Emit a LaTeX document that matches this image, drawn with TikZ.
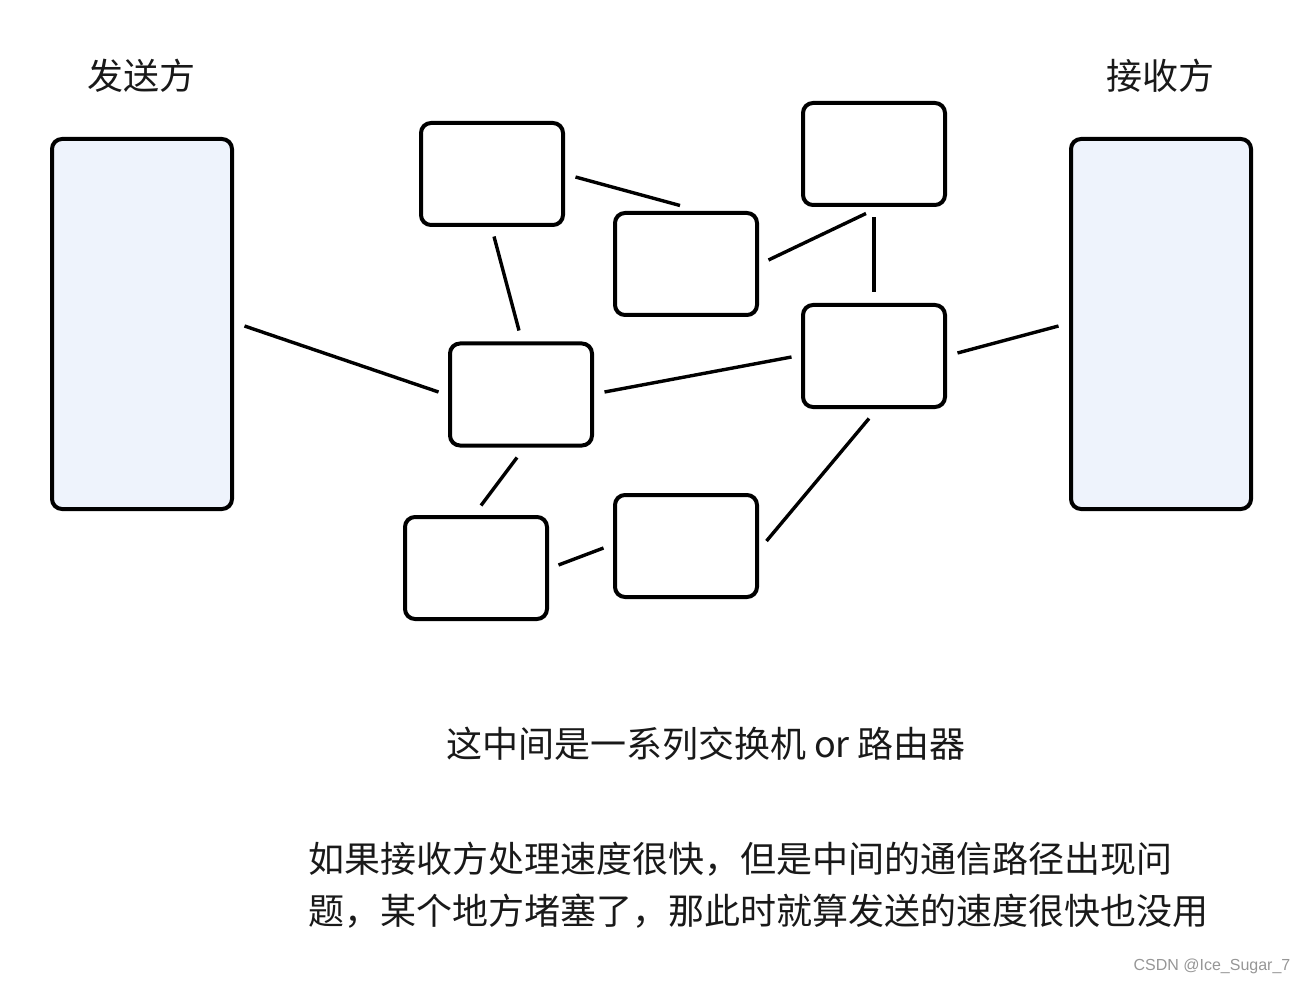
\documentclass[tikz,border=0pt]{standalone}
\usepackage{fontspec}
\newfontfamily\cjk{Noto Sans CJK SC}
\newfontfamily\wm{Liberation Sans}
\usetikzlibrary{calc}
\definecolor{boxfill}{RGB}{238,243,252}
\definecolor{wmgray}{RGB}{150,150,150}
\definecolor{txt}{RGB}{25,25,25}
\tikzset{
  router/.style={draw=black, line width=4pt, rounded corners=10pt, minimum width=142pt, minimum height=102pt, inner sep=0pt},
  endpoint/.style={draw=black, line width=4pt, rounded corners=10pt, fill=boxfill, minimum width=180pt, minimum height=370pt, inner sep=0pt},
  link/.style={line width=3.4pt, line cap=butt},
  label/.style={font=\cjk\fontsize{36}{42}\selectfont, text=txt, inner sep=0pt},
}
\begin{document}
\begin{tikzpicture}[x=1pt,y=-1pt]
\useasboundingbox (0,0) rectangle (1304,984);
\node[label] (ls) at (141,76) {发送方};
\node[label] (lr) at (1160,76) {接收方};
\node[endpoint] (S) at (142,324) {};
\node[endpoint] (R) at (1161,324) {};
\node[router] (B1) at (492,174) {};
\node[router] (B2) at (686,264) {};
\node[router] (B3) at (874,154) {};
\node[router] (A) at (521,394.5) {};
\node[router] (C) at (874,356) {};
\node[router] (D) at (476,568) {};
\node[router] (E) at (686,546) {};
\draw[link] ($(S.east)+(10.5,2)$) -- ($(A.west)+(-9.5,-2.5)$);
\draw[link] ($(B1.east)+(10.5,3)$) -- ($(B2.north)+(-6,-5.5)$);
\draw[link] ($(B1.south)+(2,9.5)$) -- ($(A.north)+(-2,-11)$);
\draw[link] ($(B2.east)+(9.5,-4)$) -- ($(B3.south)+(-8,6.5)$);
\draw[link] ($(B3.south)+(0,10.5)$) -- ($(C.north)+(0,-10.5)$);
\draw[link] ($(A.east)+(10.5,-2.5)$) -- ($(C.west)+(-9.5,1)$);
\draw[link] ($(C.east)+(10.5,-3)$) -- ($(R.west)+(-10.5,2)$);
\draw[link] ($(A.south)+(-4,10)$) -- ($(D.north)+(5,-9.5)$);
\draw[link] ($(D.east)+(9.5,-3)$) -- ($(E.west)+(-9.5,2)$);
\draw[link] ($(E.east)+(7.5,-5)$) -- ($(C.south)+(-5,9.5)$);
\node[label] (mid) at (706,744) {这中间是一系列交换机 or 路由器};
\node[label, anchor=west] (t1) at (308,859) {如果接收方处理速度很快，但是中间的通信路径出现问};
\node[label, anchor=west] (t2) at (308,911) {题，某个地方堵塞了，那此时就算发送的速度很快也没用};
\node[font=\wm\fontsize{16}{19}\selectfont, text=wmgray, inner sep=0pt] (wm) at (1212,966) {CSDN @Ice\_Sugar\_7};
\end{tikzpicture}
\end{document}
